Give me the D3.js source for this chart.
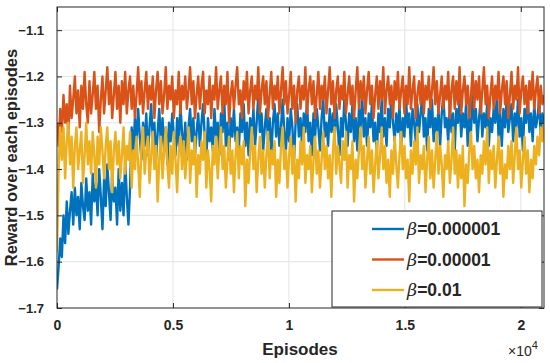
<!DOCTYPE html>
<html>
<head>
<meta charset="utf-8">
<script src="https://cdn.jsdelivr.net/npm/d3@7"></script>
<style>
  body { margin: 0; background: #fff; }
  text { font-family: "Liberation Sans", Arial, sans-serif; }
</style>
</head>
<body>
<svg width="550" height="363"></svg>
<script>
// episodes between samples
const step = 70;

const blueValues = [
  -1.66, -1.61, -1.55, -1.59, -1.50, -1.56, -1.47, -1.54, -1.49, -1.45,
  -1.52, -1.44, -1.50, -1.46, -1.53, -1.43, -1.48, -1.51, -1.42, -1.49,
  -1.45, -1.52, -1.41, -1.47, -1.43, -1.50, -1.40, -1.46, -1.53, -1.42,
  -1.48, -1.39, -1.45, -1.51, -1.41, -1.47, -1.44, -1.52, -1.40, -1.49,
  -1.43, -1.50, -1.38, -1.46, -1.52, -1.44, -1.31, -1.36, -1.29, -1.34,
  -1.27, -1.33, -1.38, -1.30, -1.35, -1.28, -1.37, -1.31, -1.26, -1.34,
  -1.30, -1.38, -1.32, -1.27, -1.35, -1.29, -1.36, -1.31, -1.39, -1.30,
  -1.34, -1.28, -1.33, -1.37, -1.29, -1.35, -1.26, -1.32, -1.36, -1.30,
  -1.38, -1.31, -1.27, -1.34, -1.29, -1.37, -1.32, -1.28, -1.35, -1.30,
  -1.26, -1.33, -1.38, -1.29, -1.34, -1.31, -1.36, -1.27, -1.33, -1.30,
  -1.37, -1.28, -1.32, -1.25, -1.35, -1.30, -1.38, -1.29, -1.33, -1.27,
  -1.34, -1.31, -1.36, -1.28, -1.32, -1.26, -1.35, -1.30, -1.37, -1.29,
  -1.33, -1.27, -1.35, -1.30, -1.24, -1.32, -1.28, -1.36, -1.31, -1.27,
  -1.34, -1.29, -1.37, -1.30, -1.26, -1.33, -1.28, -1.35, -1.31, -1.25,
  -1.32, -1.36, -1.29, -1.34, -1.27, -1.31, -1.38, -1.30, -1.26, -1.33,
  -1.29, -1.35, -1.28, -1.32, -1.25, -1.34, -1.30, -1.37, -1.28, -1.33,
  -1.27, -1.31, -1.36, -1.29, -1.25, -1.33, -1.30, -1.35, -1.27, -1.32,
  -1.28, -1.34, -1.26, -1.31, -1.37, -1.29, -1.33, -1.25, -1.30, -1.35,
  -1.28, -1.32, -1.26, -1.34, -1.29, -1.36, -1.27, -1.31, -1.24, -1.33,
  -1.29, -1.35, -1.28, -1.31, -1.26, -1.34, -1.30, -1.37, -1.28, -1.32,
  -1.25, -1.33, -1.29, -1.35, -1.27, -1.31, -1.24, -1.30, -1.34, -1.28,
  -1.32, -1.26, -1.36, -1.29, -1.33, -1.25, -1.31, -1.28, -1.35, -1.27,
  -1.30, -1.34, -1.26, -1.32, -1.28, -1.24, -1.33, -1.29, -1.36, -1.27,
  -1.31, -1.25, -1.34, -1.29, -1.32, -1.27, -1.35, -1.28, -1.24, -1.31,
  -1.29, -1.34, -1.26, -1.32, -1.28, -1.36, -1.27, -1.30, -1.25, -1.33,
  -1.28, -1.31, -1.26, -1.35, -1.29, -1.32, -1.24, -1.30, -1.27, -1.34,
  -1.29, -1.25, -1.33, -1.28, -1.31, -1.26, -1.35, -1.29, -1.32, -1.27,
  -1.30, -1.24, -1.33, -1.28, -1.35, -1.27, -1.31, -1.25, -1.32, -1.29,
  -1.26, -1.34, -1.28, -1.31, -1.25, -1.33, -1.29, -1.36, -1.27, -1.30,
  -1.24, -1.32, -1.28, -1.34, -1.26, -1.31, -1.29, -1.25, -1.33, -1.28, -1.30
];

const orangeValues = [
  -1.30, -1.35, -1.27, -1.32, -1.24, -1.30, -1.26, -1.33, -1.22, -1.29,
  -1.25, -1.20, -1.28, -1.23, -1.31, -1.22, -1.27, -1.19, -1.26, -1.30,
  -1.21, -1.28, -1.24, -1.19, -1.27, -1.22, -1.32, -1.25, -1.20, -1.28,
  -1.23, -1.18, -1.26, -1.21, -1.29, -1.24, -1.19, -1.27, -1.22, -1.30,
  -1.21, -1.26, -1.19, -1.28, -1.23, -1.20, -1.27, -1.22, -1.29, -1.24,
  -1.18, -1.26, -1.21, -1.28, -1.23, -1.19, -1.27, -1.22, -1.25, -1.20,
  -1.29, -1.23, -1.19, -1.26, -1.21, -1.28, -1.24, -1.18, -1.27, -1.22,
  -1.25, -1.20, -1.29, -1.23, -1.26, -1.19, -1.28, -1.22, -1.25, -1.20,
  -1.27, -1.23, -1.18, -1.26, -1.21, -1.29, -1.24, -1.20, -1.27, -1.22,
  -1.19, -1.28, -1.23, -1.26, -1.20, -1.29, -1.22, -1.25, -1.18, -1.27,
  -1.23, -1.20, -1.28, -1.22, -1.26, -1.19, -1.30, -1.24, -1.21, -1.27,
  -1.22, -1.18, -1.26, -1.23, -1.29, -1.21, -1.25, -1.19, -1.28, -1.23,
  -1.20, -1.27, -1.22, -1.25, -1.18, -1.28, -1.23, -1.20, -1.26, -1.21,
  -1.29, -1.24, -1.19, -1.27, -1.22, -1.25, -1.20, -1.28, -1.23, -1.18,
  -1.26, -1.21, -1.28, -1.24, -1.19, -1.27, -1.22, -1.30, -1.23, -1.20,
  -1.27, -1.22, -1.25, -1.18, -1.28, -1.23, -1.20, -1.26, -1.21, -1.29,
  -1.24, -1.19, -1.27, -1.22, -1.25, -1.20, -1.28, -1.23, -1.18, -1.26,
  -1.21, -1.29, -1.23, -1.20, -1.27, -1.22, -1.25, -1.19, -1.28, -1.24,
  -1.20, -1.26, -1.22, -1.29, -1.23, -1.18, -1.27, -1.21, -1.25, -1.20,
  -1.28, -1.23, -1.19, -1.26, -1.22, -1.29, -1.24, -1.20, -1.27, -1.21,
  -1.25, -1.18, -1.28, -1.23, -1.20, -1.26, -1.22, -1.29, -1.21, -1.25,
  -1.19, -1.27, -1.23, -1.20, -1.28, -1.22, -1.26, -1.18, -1.27, -1.23,
  -1.20, -1.29, -1.24, -1.21, -1.26, -1.19, -1.28, -1.22, -1.25, -1.20,
  -1.27, -1.23, -1.18, -1.26, -1.21, -1.28, -1.24, -1.20, -1.27, -1.22,
  -1.25, -1.19, -1.29, -1.23, -1.20, -1.27, -1.21, -1.26, -1.18, -1.28,
  -1.23, -1.20, -1.26, -1.22, -1.29, -1.24, -1.19, -1.27, -1.21, -1.25,
  -1.20, -1.28, -1.23, -1.18, -1.26, -1.22, -1.29, -1.24, -1.20, -1.27,
  -1.22, -1.25, -1.19, -1.28, -1.23, -1.20, -1.26, -1.21, -1.29, -1.24,
  -1.19, -1.27, -1.22, -1.25, -1.18, -1.28, -1.23, -1.20, -1.26, -1.22,
  -1.28, -1.21, -1.25, -1.19, -1.27, -1.23, -1.20, -1.28, -1.22, -1.26, -1.24
];

const yellowValues = [
  -1.58, -1.40, -1.31, -1.38, -1.31, -1.42, -1.34, -1.30, -1.39, -1.33,
  -1.44, -1.35, -1.31, -1.40, -1.36, -1.32, -1.43, -1.37, -1.30, -1.39,
  -1.34, -1.41, -1.32, -1.37, -1.44, -1.33, -1.39, -1.31, -1.36, -1.42,
  -1.35, -1.31, -1.40, -1.34, -1.45, -1.36, -1.32, -1.39, -1.34, -1.42,
  -1.37, -1.31, -1.41, -1.35, -1.38, -1.32, -1.44, -1.36, -1.40, -1.33,
  -1.39, -1.46, -1.35, -1.31, -1.41, -1.36, -1.33, -1.43, -1.37, -1.32,
  -1.40, -1.35, -1.47, -1.38, -1.33, -1.42, -1.36, -1.31, -1.39, -1.44,
  -1.35, -1.41, -1.32, -1.38, -1.45, -1.36, -1.33, -1.40, -1.34, -1.42,
  -1.37, -1.31, -1.43, -1.36, -1.39, -1.33, -1.46, -1.37, -1.41, -1.34,
  -1.38, -1.32, -1.44, -1.36, -1.40, -1.47, -1.35, -1.39, -1.33, -1.42,
  -1.36, -1.31, -1.40, -1.35, -1.44, -1.38, -1.33, -1.41, -1.36, -1.45,
  -1.37, -1.32, -1.42, -1.35, -1.39, -1.34, -1.48, -1.38, -1.43, -1.36,
  -1.31, -1.40, -1.35, -1.45, -1.38, -1.33, -1.41, -1.36, -1.44, -1.37,
  -1.32, -1.42, -1.36, -1.39, -1.34, -1.46, -1.38, -1.43, -1.35, -1.31,
  -1.40, -1.36, -1.44, -1.37, -1.33, -1.41, -1.35, -1.47, -1.38, -1.42,
  -1.34, -1.39, -1.31, -1.43, -1.37, -1.40, -1.35, -1.45, -1.38, -1.33,
  -1.41, -1.36, -1.44, -1.38, -1.32, -1.40, -1.35, -1.42, -1.37, -1.46,
  -1.36, -1.31, -1.41, -1.35, -1.39, -1.43, -1.34, -1.38, -1.32, -1.44,
  -1.37, -1.40, -1.34, -1.47, -1.38, -1.42, -1.36, -1.31, -1.40, -1.35,
  -1.44, -1.38, -1.33, -1.41, -1.36, -1.45, -1.39, -1.34, -1.42, -1.37,
  -1.31, -1.40, -1.35, -1.43, -1.38, -1.46, -1.36, -1.41, -1.33, -1.39,
  -1.44, -1.37, -1.32, -1.40, -1.35, -1.42, -1.38, -1.47, -1.36, -1.41,
  -1.34, -1.39, -1.31, -1.43, -1.37, -1.40, -1.35, -1.45, -1.38, -1.33,
  -1.42, -1.36, -1.44, -1.38, -1.32, -1.41, -1.35, -1.39, -1.46, -1.37,
  -1.40, -1.34, -1.43, -1.38, -1.31, -1.41, -1.36, -1.44, -1.37, -1.42,
  -1.35, -1.48, -1.39, -1.43, -1.36, -1.32, -1.40, -1.35, -1.42, -1.38,
  -1.45, -1.37, -1.41, -1.34, -1.39, -1.31, -1.43, -1.36, -1.40, -1.35,
  -1.44, -1.38, -1.33, -1.41, -1.36, -1.46, -1.39, -1.42, -1.35, -1.40,
  -1.34, -1.43, -1.37, -1.31, -1.40, -1.36, -1.44, -1.38, -1.33, -1.41,
  -1.36, -1.45, -1.38, -1.42, -1.35, -1.39, -1.33, -1.37, -1.31, -1.34, -1.30
];

const seriesNames = ['0.000001', '0.00001', '0.01'];
const seriesColors = ['#0072BD', '#D95319', '#EDB120'];
const xTicks = [0, 5000, 10000, 15000, 20000];
const xTickLabels = ['0', '0.5', '1', '1.5', '2'];
const yTicks = [-1.7, -1.6, -1.5, -1.4, -1.3, -1.2, -1.1];

const margin = { left: 57, right: 6, top: 7, bottom: 55 };

const svg = d3.select('svg');
const width = +svg.attr('width');
const height = +svg.attr('height');
const innerWidth = width - margin.left - margin.right;
const innerHeight = height - margin.top - margin.bottom;

const g = svg.append('g')
    .attr('transform', `translate(${margin.left},${margin.top})`);

const xScale = d3.scaleLinear()
    .domain([0, 21000])
    .range([0, innerWidth]);

const yScale = d3.scaleLinear()
    .domain([-1.7, -1.05])
    .range([innerHeight, 0]);

// grid
g.append('g').selectAll('line').data(xTicks.slice(1))
    .enter().append('line')
    .attr('x1', d => xScale(d)).attr('x2', d => xScale(d))
    .attr('y1', 0).attr('y2', innerHeight)
    .attr('stroke', '#e3e3e3');
g.append('g').selectAll('line').data(yTicks.slice(1))
    .enter().append('line')
    .attr('x1', 0).attr('x2', innerWidth)
    .attr('y1', d => yScale(d)).attr('y2', d => yScale(d))
    .attr('stroke', '#e3e3e3');

const line = d3.line()
    .x((d, i) => xScale(i * step))
    .y(d => yScale(d));

svg.append('clipPath').attr('id', 'clip')
    .append('rect').attr('width', innerWidth).attr('height', innerHeight);

const plotG = g.append('g').attr('clip-path', 'url(#clip)');
[blueValues, orangeValues, yellowValues].forEach((vals, k) => {
  plotG.append('path')
      .datum(vals)
      .attr('d', line)
      .attr('fill', 'none')
      .attr('stroke', seriesColors[k])
      .attr('stroke-width', 2.4)
      .attr('stroke-linejoin', 'round');
});

// axes, MATLAB style with inward ticks
const xAxis = d3.axisBottom(xScale)
    .tickValues(xTicks)
    .tickFormat((d, i) => xTickLabels[i])
    .tickSizeInner(-5)
    .tickSizeOuter(0)
    .tickPadding(10);
const yAxis = d3.axisLeft(yScale)
    .tickValues(yTicks)
    .tickFormat(d3.format('.1f'))
    .tickSizeInner(-5)
    .tickSizeOuter(0)
    .tickPadding(13);

const xAxisG = g.append('g')
    .attr('transform', `translate(0,${innerHeight})`)
    .call(xAxis);
const yAxisG = g.append('g').call(yAxis);

const topAxisG = g.append('g')
    .call(d3.axisTop(xScale).tickValues(xTicks).tickSizeInner(-5).tickSizeOuter(0));
const rightAxisG = g.append('g').attr('transform', `translate(${innerWidth},0)`)
    .call(d3.axisRight(yScale).tickValues(yTicks).tickSizeInner(-5).tickSizeOuter(0));
topAxisG.selectAll('text').remove();
rightAxisG.selectAll('text').remove();

g.selectAll('.domain').remove();
g.selectAll('.tick line').attr('stroke', '#262626');
[xAxisG, yAxisG].forEach(a => a.selectAll('.tick text')
    .attr('font-size', 13)
    .attr('font-weight', 'bold')
    .attr('fill', '#262626'));
xAxisG.selectAll('.tick text').attr('font-size', 14).attr('dy', '0.85em');

g.append('rect')
    .attr('width', innerWidth)
    .attr('height', innerHeight)
    .attr('fill', 'none')
    .attr('stroke', '#262626')
    .attr('stroke-width', 1);

// labels
svg.append('text')
    .attr('x', 300)
    .attr('y', 355)
    .attr('text-anchor', 'middle')
    .attr('font-size', 17)
    .attr('font-weight', 'bold')
    .attr('fill', '#262626')
    .text('Episodes');

const expText = svg.append('text')
    .attr('x', 508)
    .attr('y', 356)
    .attr('font-size', 14)
    .attr('fill', '#262626');
expText.append('tspan').text('\u00d710');
expText.append('tspan').attr('dy', -7).attr('font-size', 11).text('4');

svg.append('text')
    .attr('transform', `translate(17,${margin.top + innerHeight / 2}) rotate(-90)`)
    .attr('text-anchor', 'middle')
    .attr('font-size', 16.5)
    .attr('font-weight', 'bold')
    .attr('fill', '#262626')
    .text('Reward over each episodes');

// legend
const legendG = svg.append('g').attr('transform', 'translate(332,211)');
legendG.append('rect')
    .attr('width', 210)
    .attr('height', 96)
    .attr('fill', '#fff')
    .attr('stroke', '#262626')
    .attr('stroke-width', 1);

const legendRows = legendG.selectAll('g.row').data(seriesNames)
    .enter().append('g')
    .attr('class', 'row')
    .attr('transform', (d, i) => `translate(0,${18 + i * 30.5})`);
legendRows.append('line')
    .attr('x1', 40).attr('x2', 72)
    .attr('stroke', (d, i) => seriesColors[i])
    .attr('stroke-width', 2.4);
const legendText = legendRows.append('text')
    .attr('x', 75)
    .attr('dy', '0.36em')
    .attr('font-size', 17.5)
    .attr('font-weight', 'bold')
    .attr('fill', '#262626');
legendText.append('tspan')
    .attr('font-style', 'italic')
    .attr('font-weight', 'normal')
    .attr('font-family', '"DejaVu Serif", serif')
    .text('\u03b2');
legendText.append('tspan').text(d => '=' + d);
</script>
</body>
</html>
